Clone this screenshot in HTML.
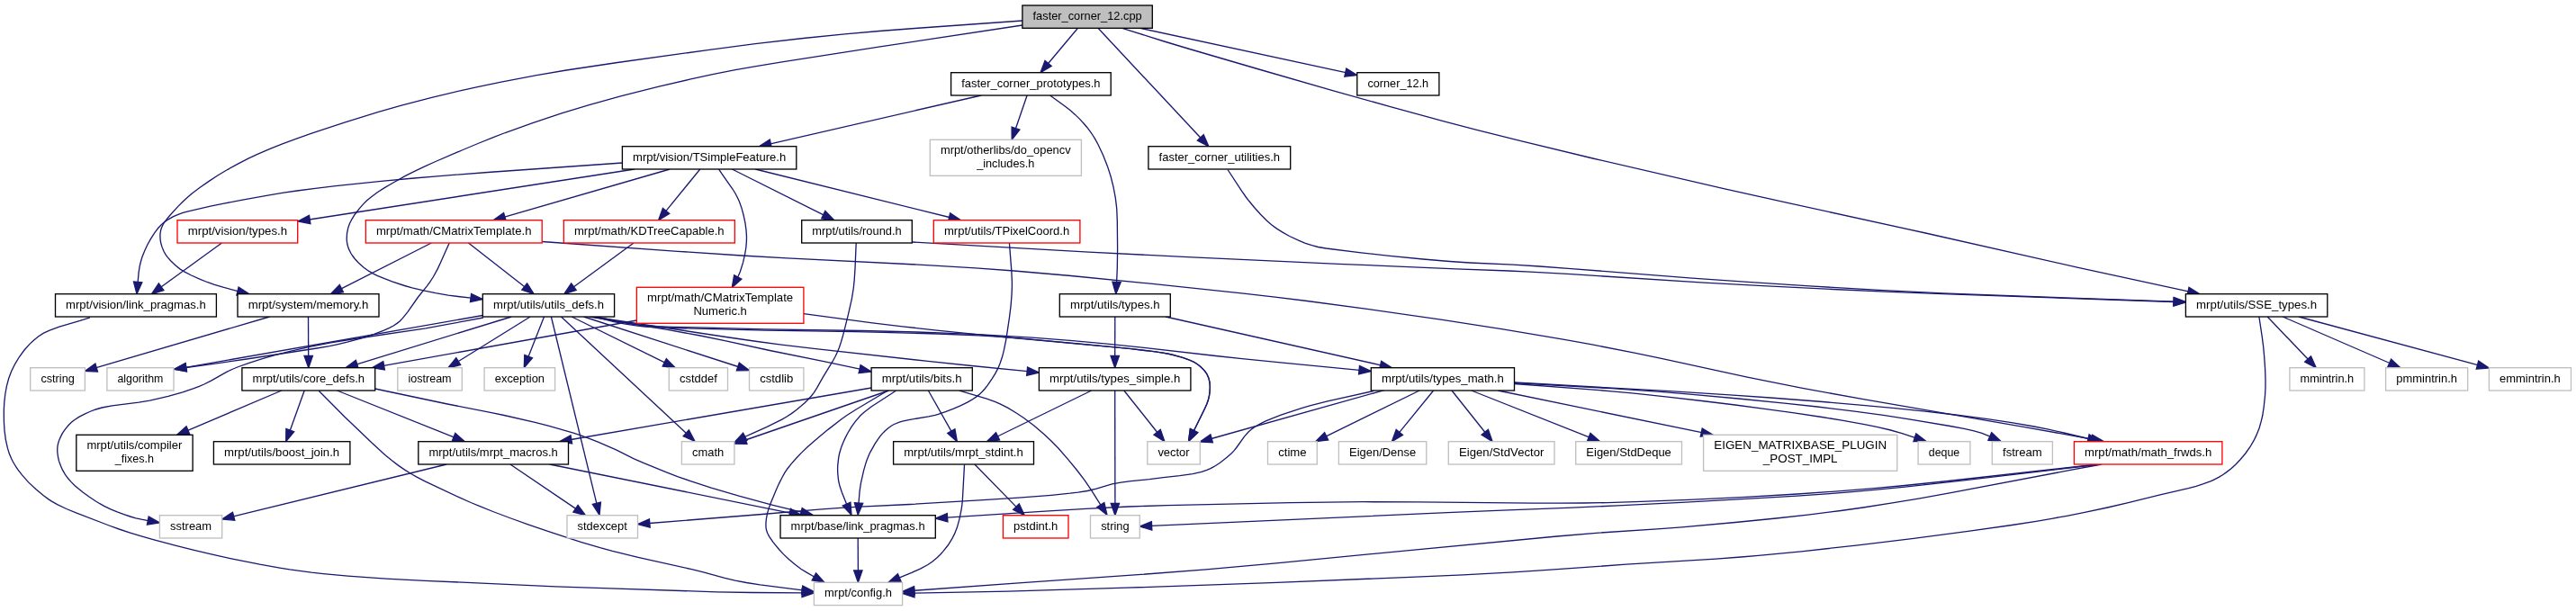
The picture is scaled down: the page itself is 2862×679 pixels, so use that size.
<!DOCTYPE html>
<html><head><meta charset="utf-8"><title>faster_corner_12.cpp include dependency graph</title>
<style>html,body{margin:0;padding:0;background:#fff}svg{display:block;will-change:transform}text{font-family:"Liberation Sans",sans-serif;font-size:13.33px;fill:#000;text-anchor:middle}.e{fill:none;stroke:#191970;stroke-width:1.33}.a{fill:#191970;stroke:#191970;stroke-width:1.33}.n{stroke-width:1.33}</style></head><body>
<svg width="2862" height="679" viewBox="0 0 2862 679">
<path class="e" d="M1197.5,31.3 L1164.4,70.7"/>
<polygon class="a" points="1161.0,67.4 1156.0,80.7 1168.2,73.5"/>
<path class="e" d="M1266.7,31.3 L1495.1,80.7"/>
<polygon class="a" points="1493.8,85.2 1507.8,83.5 1495.8,76.1"/>
<path class="e" d="M1220.0,31.3 L1334.0,153.2"/>
<polygon class="a" points="1330.4,156.1 1342.9,162.7 1337.2,149.7"/>
<path class="e" d="M1090.2,106.0 L856.0,159.8"/>
<polygon class="a" points="855.3,155.1 843.3,162.7 857.3,164.2"/>
<path class="e" d="M1141.1,106.0 L1128.4,143.0"/>
<polygon class="a" points="1124.1,141.2 1124.2,155.3 1132.9,144.2"/>
<path class="e" d="M705.0,188.0 L343.8,244.0"/>
<polygon class="a" points="343.5,239.3 331.0,246.0 344.9,248.6"/>
<path class="e" d="M744.2,188.0 L560.6,241.1"/>
<polygon class="a" points="559.6,236.5 548.1,244.7 562.2,245.4"/>
<path class="e" d="M777.8,188.0 L739.8,234.6"/>
<polygon class="a" points="736.4,231.4 731.6,244.7 743.7,237.3"/>
<path class="e" d="M813.4,188.0 L915.0,238.8"/>
<polygon class="a" points="912.7,242.9 926.7,244.7 916.8,234.5"/>
<path class="e" d="M839.2,188.0 L1054.9,241.5"/>
<polygon class="a" points="1053.5,246.0 1067.5,244.7 1055.7,236.9"/>
<path class="e" d="M246.4,270.0 L178.9,319.0"/>
<polygon class="a" points="176.4,315.0 168.4,326.7 181.9,322.6"/>
<path class="e" d="M479.3,270.0 L379.1,320.8"/>
<polygon class="a" points="377.3,316.5 367.5,326.7 381.5,324.8"/>
<path class="e" d="M520.5,270.0 L582.9,318.7"/>
<polygon class="a" points="579.8,322.1 593.2,326.7 585.6,314.8"/>
<path class="e" d="M704.0,270.0 L637.2,319.0"/>
<polygon class="a" points="634.7,315.0 626.7,326.7 640.2,322.5"/>
<path class="e" d="M1013.3,269.0 L1209.6,280.1 L1319.4,285.7 L1487.0,293.3 L1617.6,298.8 L1676.3,301.0 L1700.0,302.1 L1745.6,304.7 L1893.4,314.1 L1958.5,317.6 L2036.7,321.5 L2100.5,324.4 L2158.7,326.7 L2415.4,335.5"/>
<polygon class="a" points="2414.9,340.2 2428.4,336.0 2415.2,330.9"/>
<path class="e" d="M299.5,352.0 L106.9,408.7"/>
<polygon class="a" points="105.9,404.1 94.4,412.4 108.5,413.1"/>
<path class="e" d="M342.5,352.0 L342.7,395.7"/>
<polygon class="a" points="338.0,395.3 342.8,408.7 347.4,395.3"/>
<path class="e" d="M536.3,350.5 L206.4,408.3"/>
<polygon class="a" points="205.9,403.6 193.6,410.5 207.5,412.8"/>
<path class="e" d="M568.2,352.0 L396.4,404.8"/>
<polygon class="a" points="395.4,400.3 384.0,408.7 398.1,409.2"/>
<path class="e" d="M589.1,352.0 L509.0,401.8"/>
<polygon class="a" points="506.8,397.7 497.9,408.7 511.7,405.6"/>
<path class="e" d="M604.5,352.0 L587.0,396.6"/>
<polygon class="a" points="582.8,394.5 582.3,408.7 591.5,397.9"/>
<path class="e" d="M635.2,352.0 L738.5,402.9"/>
<polygon class="a" points="736.2,407.0 750.2,408.7 740.3,398.6"/>
<path class="e" d="M648.6,352.0 L820.1,407.5"/>
<polygon class="a" points="818.4,411.9 832.5,411.6 821.3,403.0"/>
<path class="e" d="M655.0,352.0 L741.4,366.4 L778.0,373.0 L805.3,378.6 L855.3,389.5 L916.5,401.8 L955.4,410.2"/>
<polygon class="a" points="954.1,414.7 968.1,413.0 956.1,405.6"/>
<path class="e" d="M658.0,352.0 L810.0,375.0 L841.2,379.5 L866.3,382.8 L904.1,387.3 L1030.8,401.4 L1079.6,406.5 L1141.5,412.7"/>
<polygon class="a" points="1140.7,417.3 1154.4,414.0 1141.6,408.0"/>
<path class="e" d="M663.0,352.0 L684.9,357.0 L700.2,359.8 L714.8,361.6 L730.2,362.7 L747.4,363.3 L784.3,364.1 L850.2,365.8 L957.9,367.5 L1018.8,369.0 L1056.6,370.3 L1086.9,371.6 L1117.1,373.3 L1146.8,375.2 L1191.9,378.7 L1232.6,382.4 L1271.0,386.4 L1350.8,395.5 L1380.0,398.6 L1425.2,403.1 L1510.4,411.3"/>
<polygon class="a" points="1509.6,415.9 1523.3,412.5 1510.5,406.6"/>
<path class="e" d="M707.4,356.0 L426.3,406.4"/>
<polygon class="a" points="425.8,401.7 413.5,408.7 427.4,410.9"/>
<path class="e" d="M1238.8,352.0 L1238.7,395.7"/>
<polygon class="a" points="1234.0,395.3 1238.7,408.7 1243.4,395.3"/>
<path class="e" d="M1295.1,352.0 L1534.0,405.8"/>
<polygon class="a" points="1532.6,410.3 1546.6,408.7 1534.7,401.2"/>
<path class="e" d="M2519.2,352.0 L2564.3,399.3"/>
<polygon class="a" points="2560.7,402.2 2573.3,408.7 2567.5,395.8"/>
<path class="e" d="M2536.3,352.0 L2655.0,403.5"/>
<polygon class="a" points="2652.9,407.6 2666.9,408.7 2656.6,399.1"/>
<path class="e" d="M2554.0,352.0 L2752.8,405.7"/>
<polygon class="a" points="2751.3,410.1 2765.4,409.0 2753.7,401.1"/>
<path class="e" d="M312.9,434.0 L208.6,478.3"/>
<polygon class="a" points="207.1,473.8 196.6,483.3 210.7,482.4"/>
<path class="e" d="M338.2,434.0 L322.2,478.4"/>
<polygon class="a" points="317.9,476.5 317.7,490.7 326.7,479.7"/>
<path class="e" d="M374.5,434.0 L504.3,485.8"/>
<polygon class="a" points="502.3,490.1 516.4,490.7 505.8,481.4"/>
<path class="e" d="M968.1,431.0 L634.5,488.5"/>
<polygon class="a" points="634.0,483.8 621.7,490.7 635.6,493.0"/>
<path class="e" d="M987.5,434.0 L828.2,489.0"/>
<polygon class="a" points="827.0,484.5 815.9,493.2 830.0,493.3"/>
<path class="e" d="M1031.4,434.0 L1057.0,479.3"/>
<polygon class="a" points="1052.8,481.4 1063.4,490.7 1060.9,476.8"/>
<path class="e" d="M1212.7,434.0 L1108.2,485.0"/>
<polygon class="a" points="1106.5,480.6 1096.5,490.7 1110.6,489.0"/>
<path class="e" d="M1248.8,434.0 L1285.8,480.5"/>
<polygon class="a" points="1282.0,483.2 1293.9,490.7 1289.3,477.3"/>
<path class="e" d="M1537.8,433.6 L1345.8,487.5"/>
<polygon class="a" points="1344.9,482.9 1333.3,491.0 1347.4,491.9"/>
<path class="e" d="M1577.1,434.0 L1473.4,484.9"/>
<polygon class="a" points="1471.6,480.6 1461.7,490.7 1475.7,489.0"/>
<path class="e" d="M1592.6,434.0 L1554.6,480.6"/>
<polygon class="a" points="1551.2,477.4 1546.4,490.7 1558.5,483.3"/>
<path class="e" d="M1613.0,434.0 L1650.0,480.5"/>
<polygon class="a" points="1646.1,483.1 1658.1,490.7 1653.4,477.3"/>
<path class="e" d="M1634.8,434.0 L1765.6,485.9"/>
<polygon class="a" points="1763.5,490.1 1777.7,490.7 1767.0,481.4"/>
<path class="e" d="M1664.3,434.0 L1890.6,480.7"/>
<polygon class="a" points="1889.3,485.2 1903.3,483.3 1891.2,476.1"/>
<path class="e" d="M1682.5,426.5 L1767.2,432.8 L1790.8,434.8 L1815.7,437.2 L1852.8,441.1 L1890.9,445.5 L1927.8,450.0 L1960.4,454.3 L1993.4,458.9 L2024.2,463.5 L2046.5,467.1 L2071.4,471.6 L2086.2,474.6 L2100.5,478.0 L2113.2,481.6 L2127.6,486.4"/>
<polygon class="a" points="2125.9,490.7 2140.0,490.4 2128.8,481.8"/>
<path class="e" d="M1682.5,425.5 L1790.1,431.7 L1844.7,435.4 L1880.2,438.3 L1931.3,443.0 L1982.6,448.1 L2018.9,452.0 L2058.7,456.8 L2092.3,461.4 L2122.6,466.1 L2166.6,473.5 L2182.1,476.3 L2193.2,478.9 L2201.9,481.4 L2211.1,485.1"/>
<polygon class="a" points="2208.9,489.3 2223.0,490.4 2212.7,480.7"/>
<path class="e" d="M1682.5,425.0 L1855.2,434.7 L1921.9,438.8 L1966.9,442.0 L2019.1,446.0 L2069.4,450.3 L2105.2,453.6 L2138.9,457.1 L2172.5,461.0 L2208.2,465.7 L2234.8,469.7 L2260.0,474.0 L2274.7,476.9 L2293.0,481.0 L2320.3,487.5"/>
<polygon class="a" points="2319.0,491.9 2333.0,490.4 2321.1,482.8"/>
<path class="e" d="M496.2,516.0 L259.3,573.8"/>
<polygon class="a" points="258.5,569.2 246.7,576.9 260.8,578.3"/>
<path class="e" d="M566.9,516.0 L639.8,565.4"/>
<polygon class="a" points="636.9,569.1 650.5,572.7 642.1,561.3"/>
<path class="e" d="M610.7,516.0 L877.8,570.1"/>
<polygon class="a" points="876.6,574.6 890.6,572.7 878.4,565.4"/>
<path class="e" d="M1082.9,516.0 L1129.2,563.4"/>
<polygon class="a" points="1125.7,566.4 1138.3,572.7 1132.3,559.9"/>
<path class="e" d="M2331.0,516.0 L2164.6,534.5 L2116.2,539.5 L2085.1,542.4 L2045.1,545.7 L1996.7,549.0 L1939.1,552.3 L1876.6,555.3 L1816.3,557.7 L1785.7,558.6 L1760.0,559.0 L1733.0,559.2 L1703.5,559.1 L1575.3,557.8 L1515.0,557.7 L1433.8,558.7 L1296.2,561.7 L1254.0,563.0 L1206.6,565.3 L1157.0,568.4 L1052.3,575.2"/>
<polygon class="a" points="1052.3,570.5 1039.3,576.0 1052.9,579.8"/>
<path class="e" d="M2333.0,516.0 L2181.9,533.8 L2116.5,541.1 L2085.2,544.2 L2057.5,546.7 L2032.8,548.6 L1996.7,551.1 L1961.7,553.2 L1868.1,558.3 L1797.2,561.9 L1747.4,564.1 L1675.1,566.9 L1608.0,569.7 L1279.3,584.4"/>
<polygon class="a" points="1279.4,579.7 1266.3,585.0 1279.8,589.1"/>
<path class="e" d="M953.2,598.0 L953.4,634.3"/>
<polygon class="a" points="948.7,634.0 953.4,647.3 958.0,634.0"/>
<path class="e" d="M1135.9,23.0 L1016.4,31.5 L977.0,34.5 L938.5,37.8 L892.7,42.5 L839.1,48.7 L786.2,55.6 L686.0,69.5 L629.2,78.0 L596.2,83.6 L556.9,91.1 L530.5,96.6 L513.4,100.3 L479.7,108.4 L446.0,117.2 L419.7,124.7 L382.7,136.1 L346.3,148.2 L329.4,154.2 L313.8,159.9 L300.0,165.4 L285.5,171.6 L275.9,176.1 L264.3,182.1 L253.1,188.3 L242.2,194.8 L231.8,201.6 L221.9,208.5 L213.0,215.3 L206.7,220.8 L202.7,224.5 L197.8,229.4 L188.0,240.3 L182.9,246.7 L181.2,249.5 L180.3,251.3 L179.1,254.3 L178.5,256.6 L178.0,259.6 L177.9,262.0 L178.0,264.6 L178.3,267.8 L179.0,271.0 L180.0,274.4 L182.2,279.8 L184.2,283.1 L185.8,285.4 L189.6,289.8 L195.1,295.1 L200.2,299.1 L205.2,302.2 L212.6,306.0 L222.4,310.3 L230.1,313.5 L238.3,316.3 L248.7,319.4 L264.4,323.7"/>
<polygon class="a" points="262.9,328.1 277.0,326.7 265.1,319.0"/>
<path class="e" d="M1135.9,28.0 L974.7,52.4 L868.8,68.9 L838.5,73.8 L815.6,77.9 L791.7,82.7 L766.3,88.2 L732.1,96.1 L690.4,106.6 L654.5,116.6 L624.7,125.6 L591.1,136.8 L561.3,147.5 L548.1,152.6 L531.0,159.5 L514.3,166.5 L482.8,180.0 L471.5,185.1 L460.5,190.3 L450.0,195.7 L435.2,204.0 L426.9,208.9 L418.9,214.0 L411.7,219.4 L407.4,223.1 L403.8,226.6 L399.4,231.6 L394.1,238.5 L390.8,243.8 L388.2,249.0 L386.6,253.9 L385.5,259.7 L385.2,265.6 L385.4,268.4 L385.9,271.3 L386.6,274.0 L387.6,276.9 L389.9,281.5 L391.9,284.5 L394.1,287.5 L398.0,291.8 L403.8,297.1 L409.6,301.2 L414.2,303.8 L419.2,306.3 L427.3,309.7 L435.6,312.8 L449.5,317.5 L457.9,319.9 L469.4,322.7 L483.9,325.7 L498.0,328.1 L509.0,329.5 L523.4,331.1"/>
<polygon class="a" points="522.5,335.7 536.3,332.5 523.6,326.4"/>
<path class="e" d="M1246.8,31.4 L1293.4,46.0 L1320.0,54.0 L1400.4,77.5 L1481.4,100.8 L1544.8,118.6 L1605.3,135.1 L1640.7,144.3 L1689.7,156.7 L1769.7,176.0 L1916.2,209.8 L1987.1,225.6 L2139.3,259.0 L2309.0,297.3 L2431.3,323.9"/>
<polygon class="a" points="2430.0,328.4 2444.0,326.7 2432.0,319.3"/>
<path class="e" d="M1166.6,106.0 L1183.5,118.2 L1189.9,123.3 L1194.5,127.4 L1200.1,132.9 L1204.1,137.2 L1207.9,141.7 L1211.6,146.6 L1213.9,150.0 L1216.5,154.1 L1220.1,160.8 L1225.7,172.7 L1230.5,184.9 L1234.2,196.5 L1237.1,208.1 L1239.3,219.8 L1240.7,231.5 L1241.3,245.5 L1241.6,276.5 L1241.3,297.8 L1240.6,313.7"/>
<polygon class="a" points="1235.9,313.1 1239.8,326.7 1245.2,313.7"/>
<path class="e" d="M691.4,181.0 L541.9,191.5 L485.7,195.8 L460.0,198.0 L423.5,201.4 L372.9,206.7 L350.3,209.4 L330.0,212.0 L315.1,214.2 L298.9,216.8 L270.9,221.9 L248.8,226.1 L233.8,229.2 L209.1,234.8 L203.3,236.4 L198.0,238.3 L192.6,240.7 L187.0,243.8 L182.9,246.6 L179.0,250.0 L175.9,253.3 L172.0,258.4 L167.5,265.4 L163.7,272.3 L160.6,278.9 L157.9,285.7 L156.2,291.5 L155.0,296.8 L154.1,302.9 L153.1,313.7"/>
<polygon class="a" points="148.5,313.0 152.0,326.7 157.8,313.8"/>
<path class="e" d="M798.5,187.8 L801.5,192.3 L813.9,210.0 L816.7,214.5 L819.2,219.2 L821.4,224.0 L824.1,231.6 L826.2,239.5 L827.9,247.5 L829.0,255.6 L829.5,263.5 L829.4,268.4 L828.8,275.5 L827.6,282.7 L825.5,291.9 L822.3,302.0 L819.6,308.2"/>
<polygon class="a" points="815.7,305.7 813.3,319.6 823.9,310.2"/>
<path class="e" d="M100.0,352.8 L88.9,356.4 L65.9,363.1 L55.1,367.1 L48.5,370.2 L42.5,374.0 L37.7,377.9 L33.2,382.1 L27.0,389.0 L21.5,396.5 L16.8,404.3 L12.8,412.3 L9.7,420.5 L7.4,429.1 L5.8,438.0 L4.8,447.0 L4.3,456.0 L4.4,468.6 L5.0,478.4 L6.3,488.3 L8.4,497.9 L10.3,504.1 L12.8,510.0 L14.3,513.0 L17.9,519.0 L19.9,521.9 L24.3,527.7 L31.6,535.9 L39.7,543.6 L48.1,550.6 L54.0,554.9 L57.1,556.9 L63.6,560.6 L73.8,565.5 L84.5,569.9 L121.2,584.0 L132.3,588.0 L143.8,591.8 L156.2,595.6 L170.2,599.6 L195.6,606.3 L214.5,611.1 L234.7,615.9 L255.8,620.6 L288.6,627.2 L310.8,631.1 L321.9,632.9 L345.9,636.2 L359.2,637.7 L386.5,640.2 L428.9,643.2 L471.9,645.3 L617.2,651.8 L677.7,653.9 L796.1,657.8 L835.7,658.5 L891.4,658.9"/>
<polygon class="a" points="891.0,663.6 904.4,659.0 891.1,654.2"/>
<path class="e" d="M499.3,269.7 L489.5,291.8 L486.2,298.9 L481.5,307.5 L477.5,313.6 L474.4,317.8 L464.6,330.0 L453.0,346.6 L447.3,353.6 L444.4,356.7 L441.4,359.1 L437.2,362.0 L432.7,364.4 L426.5,367.1 L415.6,371.3 L402.7,375.6 L385.8,380.2 L374.4,382.9 L366.0,384.7 L352.0,387.0 L274.1,399.0 L242.5,403.6 L206.5,408.5"/>
<polygon class="a" points="206.2,403.8 193.6,410.2 207.4,413.0"/>
<path class="e" d="M602.2,268.5 L752.9,279.3 L824.0,284.0 L874.5,286.9 L1033.4,294.8 L1083.9,297.9 L1126.6,301.0 L1190.0,306.5 L1275.5,314.9 L1381.7,326.1 L1416.6,330.1 L1452.3,334.5 L1520.6,343.6 L1602.4,355.4 L1669.9,365.9 L1736.7,377.1 L1768.8,382.9 L1815.8,392.2 L1847.0,398.7 L1940.1,418.8 L1971.2,425.2 L2002.6,431.4 L2070.2,443.7 L2248.0,474.3 L2324.2,488.1"/>
<polygon class="a" points="2323.0,492.6 2337.0,490.4 2324.7,483.4"/>
<path class="e" d="M354.2,434.2 L382.7,463.0 L413.3,492.3 L427.7,505.4 L435.1,511.5 L442.4,517.1 L449.3,521.9 L455.9,526.0 L462.6,529.9 L472.7,535.1 L510.0,552.7 L523.1,558.5 L533.2,562.7 L547.7,568.5 L567.6,576.0 L587.4,583.1 L608.7,590.4 L630.7,597.7 L645.3,602.3 L666.7,608.6 L680.4,612.3 L708.9,619.3 L768.5,632.7 L780.6,635.7 L805.2,642.4 L816.8,645.1 L829.3,647.5 L844.4,649.8 L891.5,655.8"/>
<polygon class="a" points="890.6,660.4 904.4,657.5 891.8,651.1"/>
<path class="e" d="M416.7,432.0 L497.1,449.0 L546.1,458.6 L560.0,461.5 L594.4,469.4 L609.1,473.2 L625.7,477.8 L637.0,481.2 L646.0,484.2 L655.4,487.6 L664.9,491.4 L684.5,499.8 L703.8,509.6 L715.4,514.7 L740.5,524.9 L753.4,529.8 L765.7,534.1 L790.2,542.1 L820.9,551.2 L857.7,561.1 L890.4,569.2"/>
<polygon class="a" points="888.9,573.7 903.0,572.3 891.2,564.6"/>
<path class="e" d="M537.0,353.0 L496.0,360.7 L473.0,364.8 L394.4,376.5 L367.4,380.9 L343.3,385.6 L321.2,390.7 L305.5,394.7 L290.7,398.9 L276.7,403.3 L263.8,408.0 L257.8,410.5 L252.2,413.2 L234.5,423.1 L226.8,427.0 L221.3,429.4 L215.3,431.7 L202.9,435.8 L186.9,440.3 L166.4,445.1 L154.2,447.1 L124.6,450.8 L113.2,453.0 L106.4,455.0 L99.7,457.5 L93.5,460.3 L87.7,463.4 L82.6,466.8 L79.4,469.3 L76.6,472.0 L73.1,476.1 L69.9,480.7 L68.1,483.9 L65.8,488.9 L64.7,492.3 L64.0,495.7 L63.7,499.2 L63.8,502.8 L64.6,508.5 L65.5,512.4 L67.6,518.1 L69.3,521.9 L72.3,527.2 L75.3,531.3 L78.9,535.4 L82.9,539.4 L87.4,543.3 L92.0,547.0 L99.3,552.3 L106.4,557.0 L110.9,559.7 L115.6,562.3 L122.9,565.8 L130.2,568.8 L137.6,571.6 L144.7,574.0 L150.9,575.8 L157.1,577.2 L164.6,578.6"/>
<polygon class="a" points="163.4,583.1 177.4,581.0 165.2,574.0"/>
<path class="e" d="M612.4,352.0 L662.9,559.7"/>
<polygon class="a" points="658.3,560.5 666.0,572.3 667.4,558.2"/>
<path class="e" d="M623.5,352.0 L762.5,481.5"/>
<polygon class="a" points="759.1,484.7 772.0,490.4 765.4,477.9"/>
<path class="e" d="M661.0,352.0 L681.1,357.3 L693.5,359.8 L708.3,362.1 L716.7,363.0 L726.4,363.7 L747.5,364.6 L850.2,367.1 L950.0,368.6 L981.0,369.3 L1042.2,371.0 L1087.4,372.8 L1108.6,374.0 L1135.1,376.1 L1238.8,385.8 L1256.8,387.7 L1279.8,390.4 L1289.9,391.8 L1297.1,393.0 L1304.0,394.6 L1314.9,397.7 L1321.6,400.1 L1327.7,403.0 L1330.3,404.7 L1333.2,406.9 L1337.5,411.1 L1339.7,413.8 L1340.9,415.7 L1342.8,419.9 L1344.0,424.9 L1344.4,430.3 L1343.9,437.2 L1342.7,443.3 L1341.0,448.5 L1338.7,453.7 L1326.4,478.8"/>
<polygon class="a" points="1322.4,476.4 1320.5,490.4 1330.7,480.7"/>
<path class="e" d="M892.9,348.6 L969.3,358.9 L1002.6,362.8 L1041.0,367.1 L1115.2,374.7 L1197.4,382.0 L1238.8,385.8 L1256.8,387.7 L1282.4,390.7 L1292.4,392.2 L1301.8,394.0 L1313.1,397.1 L1320.0,399.5 L1326.2,402.2 L1330.3,404.7 L1334.2,407.7 L1338.3,412.0 L1340.9,415.7 L1342.8,419.9 L1344.0,424.9 L1344.3,428.9 L1344.2,434.4 L1343.5,440.0 L1342.2,445.0 L1341.0,448.5 L1338.7,453.7 L1326.4,478.8"/>
<polygon class="a" points="1322.4,476.4 1320.5,490.4 1330.7,480.7"/>
<path class="e" d="M986.0,434.2 L951.6,454.8 L941.3,461.3 L934.6,466.0 L920.3,477.1 L908.9,486.4 L897.9,496.1 L891.0,502.6 L884.6,509.2 L879.0,515.6 L874.8,521.0 L871.7,525.7 L869.0,530.5 L865.4,537.6 L862.3,544.5 L855.9,560.1 L853.8,566.1 L852.5,570.6 L851.3,577.1 L850.9,582.0 L851.0,586.0 L851.5,589.0 L852.7,592.5 L854.7,596.4 L859.2,602.9 L865.5,610.5 L870.5,615.9 L876.1,621.2 L883.6,627.5 L889.8,632.2 L896.6,636.4 L904.6,641.0"/>
<polygon class="a" points="902.1,644.9 916.0,647.3 906.6,636.8"/>
<path class="e" d="M995.3,434.2 L990.0,437.8 L968.0,452.0 L960.5,457.7 L956.0,461.8 L950.5,468.1 L945.8,474.7 L941.6,481.7 L939.2,486.4 L937.0,491.2 L935.1,495.9 L933.6,500.5 L932.5,504.5 L931.7,508.6 L930.8,516.6 L930.6,520.7 L930.8,526.6 L931.6,534.2 L932.9,539.7 L935.3,547.0 L940.7,560.4"/>
<polygon class="a" points="936.3,562.0 946.0,572.3 944.9,558.2"/>
<path class="e" d="M1066.0,434.2 L1096.3,443.2 L1105.3,446.3 L1111.1,448.8 L1120.0,453.4 L1128.8,458.7 L1137.5,464.5 L1148.8,473.0 L1159.6,482.2 L1167.9,490.0 L1176.0,498.3 L1186.3,510.1 L1196.1,522.0 L1204.8,533.4 L1212.3,544.4 L1223.0,561.3"/>
<polygon class="a" points="1218.9,563.6 1230.0,572.3 1226.8,558.6"/>
<path class="e" d="M1071.5,516.4 L1069.4,555.2 L1068.9,560.4 L1068.2,565.6 L1066.0,576.6 L1063.4,586.1 L1060.5,593.4 L1057.8,598.7 L1053.2,606.0 L1047.7,612.9 L1044.7,616.2 L1041.4,619.4 L1036.0,624.0 L1031.0,627.5 L1022.4,632.1 L1012.9,636.4 L998.9,642.1"/>
<polygon class="a" points="997.4,637.7 987.0,647.3 1001.1,646.2"/>
<path class="e" d="M1238.7,434.0 L1238.9,559.7"/>
<polygon class="a" points="1234.2,559.3 1238.9,572.7 1243.5,559.3"/>
<path class="e" d="M1526.3,434.4 L1474.9,445.9 L1455.2,450.9 L1446.0,453.7 L1423.2,461.2 L1412.4,465.3 L1405.7,468.2 L1399.4,471.4 L1393.6,474.8 L1391.0,476.6 L1387.3,479.7 L1382.7,484.8 L1373.7,497.5 L1371.0,500.9 L1368.0,504.0 L1363.4,508.1 L1355.5,514.3 L1348.6,518.7 L1344.9,520.6 L1340.8,522.4 L1335.0,524.4 L1325.1,526.6 L1310.7,528.7 L1292.6,530.7 L1276.9,532.7 L1256.5,534.7 L1245.4,536.1 L1235.6,537.9 L1229.7,539.6 L1218.1,543.2 L1208.2,545.5 L1197.7,547.1 L1188.9,548.2 L1168.1,550.3 L1131.5,553.2 L1092.2,555.7 L1010.8,560.5 L955.5,563.1 L934.0,564.4 L909.9,566.2 L846.6,571.5 L721.5,581.5"/>
<polygon class="a" points="721.4,576.8 708.5,582.5 722.2,586.1"/>
<path class="e" d="M2335.0,516.0 L2301.6,522.2 L2166.0,547.9 L2133.0,553.8 L2100.9,559.2 L2070.0,564.0 L2045.1,567.5 L2008.6,572.1 L1973.3,576.0 L1928.0,580.5 L1868.4,585.9 L1844.8,587.7 L1776.4,592.1 L1729.9,596.0 L1573.7,610.8 L1417.9,625.9 L1340.0,632.9 L1268.0,638.4 L1131.8,647.9 L1015.6,656.3"/>
<polygon class="a" points="1015.6,651.7 1002.6,657.3 1016.2,661.0"/>
<path class="e" d="M951.2,269.7 L950.0,298.6 L949.2,311.1 L948.3,320.0 L946.4,331.8 L942.4,349.6 L936.9,371.6 L934.4,380.3 L932.3,386.5 L930.7,390.6 L928.0,396.2 L925.0,401.7 L914.5,418.8 L907.6,431.1 L904.3,436.3 L901.4,440.0 L897.8,444.0 L893.8,447.9 L889.6,451.6 L885.2,455.2 L879.3,459.6 L874.9,462.5 L868.8,466.1 L851.6,474.7 L834.3,482.3 L827.4,485.5"/>
<polygon class="a" points="825.6,481.2 815.9,491.5 829.9,489.5"/>
<path class="e" d="M1121.4,269.7 L1123.8,300.6 L1124.4,312.7 L1124.4,318.6 L1124.1,326.6 L1123.1,339.7 L1121.5,352.6 L1119.2,368.1 L1117.5,378.8 L1115.4,389.1 L1113.6,396.3 L1111.2,403.5 L1109.0,408.9 L1105.9,414.9 L1102.2,420.8 L1097.1,428.3 L1094.2,432.0 L1091.0,435.5 L1087.4,438.9 L1084.1,441.4 L1079.9,444.2 L1075.2,446.8 L1067.6,450.6 L1059.5,454.1 L1051.1,457.4 L1042.3,460.4 L1038.9,461.4 L1031.8,462.9 L1009.6,466.6 L1002.6,468.2 L999.3,469.1 L993.3,471.5 L990.7,473.0 L986.9,475.7 L983.4,478.7 L980.3,481.9 L977.4,485.3 L972.4,492.7 L966.8,502.6 L964.9,506.8 L963.1,511.3 L961.6,515.9 L959.6,522.9 L956.4,537.0 L955.1,545.8 L954.0,559.3"/>
<polygon class="a" points="949.4,558.7 953.2,572.3 958.7,559.3"/>
<path class="e" d="M1364.0,188.5 L1379.5,212.1 L1384.3,219.0 L1387.6,223.3 L1394.0,231.0 L1400.5,238.2 L1407.2,245.0 L1412.6,249.7 L1418.6,254.1 L1425.4,258.4 L1432.7,262.5 L1442.7,267.2 L1450.3,270.3 L1457.6,272.7 L1464.4,274.5 L1473.2,276.0 L1512.2,280.9 L1541.5,284.1 L1581.0,288.0 L1610.6,290.5 L1632.9,292.0 L1681.1,294.2 L1710.6,296.0 L1745.6,298.6 L1880.1,309.1 L1945.4,313.6 L2010.7,317.9 L2087.9,322.4 L2158.7,325.8 L2308.1,331.4 L2415.4,335.1"/>
<polygon class="a" points="2414.9,339.7 2428.4,335.5 2415.2,330.4"/>
<path class="e" d="M2509.9,352.0 L2513.3,374.7 L2514.6,384.9 L2515.6,395.5 L2516.6,409.9 L2517.0,421.6 L2517.0,430.3 L2516.6,438.7 L2515.3,451.5 L2513.8,461.5 L2512.1,468.7 L2510.1,475.7 L2506.8,483.9 L2504.0,489.7 L2499.7,497.0 L2494.7,504.0 L2489.0,510.7 L2484.3,515.7 L2479.2,520.5 L2473.5,524.9 L2469.4,527.7 L2465.0,530.4 L2459.3,533.4 L2455.8,534.9 L2448.2,537.7 L2440.0,540.3 L2431.3,542.6 L2398.9,550.1 L2365.6,558.4 L2341.5,564.0 L2316.2,569.4 L2296.3,573.3 L2279.6,576.3 L2262.2,579.3 L2235.3,583.5 L2188.4,590.2 L2126.2,598.4 L2064.3,605.9 L2001.4,612.8 L1953.7,617.4 L1934.3,619.0 L1906.3,621.1 L1806.8,627.2 L1719.2,633.4 L1681.1,635.8 L1625.5,638.8 L1567.1,641.4 L1418.7,647.3 L1251.5,653.2 L1120.0,657.1 L1015.6,659.2"/>
<polygon class="a" points="1015.8,654.6 1002.6,659.5 1016.0,663.9"/>
<rect class="n" x="1135.9" y="6.0" width="144.4" height="25.3" fill="#bfbfbf" stroke="#000000"/>
<text x="1208.1" y="22.0" textLength="121.1" lengthAdjust="spacingAndGlyphs">faster_corner_12.cpp</text>
<rect class="n" x="1056.6" y="80.7" width="177.6" height="25.3" fill="#ffffff" stroke="#000000"/>
<text x="1145.4" y="96.7" textLength="154.3" lengthAdjust="spacingAndGlyphs">faster_corner_prototypes.h</text>
<rect class="n" x="1507.8" y="80.7" width="91.1" height="25.3" fill="#ffffff" stroke="#000000"/>
<text x="1553.3" y="96.7" textLength="67.8" lengthAdjust="spacingAndGlyphs">corner_12.h</text>
<rect class="n" x="691.4" y="162.7" width="193.4" height="25.3" fill="#ffffff" stroke="#000000"/>
<text x="788.1" y="178.7" textLength="170.1" lengthAdjust="spacingAndGlyphs">mrpt/vision/TSimpleFeature.h</text>
<rect class="n" x="1033.3" y="155.3" width="168.1" height="40.0" fill="#ffffff" stroke="#bfbfbf"/>
<text x="1117.3" y="170.7" textLength="144.8" lengthAdjust="spacingAndGlyphs">mrpt/otherlibs/do_opencv</text>
<text x="1117.3" y="185.8" textLength="64.3" lengthAdjust="spacingAndGlyphs">_includes.h</text>
<rect class="n" x="1275.9" y="162.7" width="157.8" height="25.3" fill="#ffffff" stroke="#000000"/>
<text x="1354.8" y="178.7" textLength="134.5" lengthAdjust="spacingAndGlyphs">faster_corner_utilities.h</text>
<rect class="n" x="197.0" y="244.7" width="133.7" height="25.3" fill="#ffffff" stroke="#ff0000"/>
<text x="263.9" y="260.7" textLength="110.4" lengthAdjust="spacingAndGlyphs">mrpt/vision/types.h</text>
<rect class="n" x="406.3" y="244.7" width="195.9" height="25.3" fill="#ffffff" stroke="#ff0000"/>
<text x="504.2" y="260.7" textLength="172.6" lengthAdjust="spacingAndGlyphs">mrpt/math/CMatrixTemplate.h</text>
<rect class="n" x="626.3" y="244.7" width="190.0" height="25.3" fill="#ffffff" stroke="#ff0000"/>
<text x="721.3" y="260.7" textLength="166.7" lengthAdjust="spacingAndGlyphs">mrpt/math/KDTreeCapable.h</text>
<rect class="n" x="890.7" y="244.7" width="122.6" height="25.3" fill="#ffffff" stroke="#000000"/>
<text x="952.0" y="260.7" textLength="99.3" lengthAdjust="spacingAndGlyphs">mrpt/utils/round.h</text>
<rect class="n" x="1037.3" y="244.7" width="162.6" height="25.3" fill="#ffffff" stroke="#ff0000"/>
<text x="1118.6" y="260.7" textLength="139.3" lengthAdjust="spacingAndGlyphs">mrpt/utils/TPixelCoord.h</text>
<rect class="n" x="61.5" y="326.7" width="178.9" height="25.3" fill="#ffffff" stroke="#000000"/>
<text x="150.9" y="342.7" textLength="155.6" lengthAdjust="spacingAndGlyphs">mrpt/vision/link_pragmas.h</text>
<rect class="n" x="264.0" y="326.7" width="157.0" height="25.3" fill="#ffffff" stroke="#000000"/>
<text x="342.5" y="342.7" textLength="133.7" lengthAdjust="spacingAndGlyphs">mrpt/system/memory.h</text>
<rect class="n" x="536.3" y="326.7" width="146.3" height="25.3" fill="#ffffff" stroke="#000000"/>
<text x="609.5" y="342.7" textLength="123.0" lengthAdjust="spacingAndGlyphs">mrpt/utils/utils_defs.h</text>
<rect class="n" x="707.4" y="319.3" width="185.5" height="40.0" fill="#ffffff" stroke="#ff0000"/>
<text x="800.1" y="334.7" textLength="162.2" lengthAdjust="spacingAndGlyphs">mrpt/math/CMatrixTemplate</text>
<text x="800.1" y="349.8" textLength="59.4" lengthAdjust="spacingAndGlyphs">Numeric.h</text>
<rect class="n" x="1177.3" y="326.7" width="123.0" height="25.3" fill="#ffffff" stroke="#000000"/>
<text x="1238.8" y="342.7" textLength="99.7" lengthAdjust="spacingAndGlyphs">mrpt/utils/types.h</text>
<rect class="n" x="2428.4" y="326.7" width="157.4" height="25.3" fill="#ffffff" stroke="#000000"/>
<text x="2507.1" y="342.7" textLength="134.1" lengthAdjust="spacingAndGlyphs">mrpt/utils/SSE_types.h</text>
<rect class="n" x="33.7" y="408.7" width="60.7" height="25.3" fill="#ffffff" stroke="#bfbfbf"/>
<text x="64.1" y="424.7" textLength="37.4" lengthAdjust="spacingAndGlyphs">cstring</text>
<rect class="n" x="118.9" y="408.7" width="74.1" height="25.3" fill="#ffffff" stroke="#bfbfbf"/>
<text x="155.9" y="424.7" textLength="50.8" lengthAdjust="spacingAndGlyphs">algorithm</text>
<rect class="n" x="268.9" y="408.7" width="147.8" height="25.3" fill="#ffffff" stroke="#000000"/>
<text x="342.8" y="424.7" textLength="124.5" lengthAdjust="spacingAndGlyphs">mrpt/utils/core_defs.h</text>
<rect class="n" x="441.8" y="408.7" width="71.5" height="25.3" fill="#ffffff" stroke="#bfbfbf"/>
<text x="477.5" y="424.7" textLength="48.2" lengthAdjust="spacingAndGlyphs">iostream</text>
<rect class="n" x="538.1" y="408.7" width="78.5" height="25.3" fill="#ffffff" stroke="#bfbfbf"/>
<text x="577.4" y="424.7" textLength="55.2" lengthAdjust="spacingAndGlyphs">exception</text>
<rect class="n" x="743.3" y="408.7" width="65.2" height="25.3" fill="#ffffff" stroke="#bfbfbf"/>
<text x="775.9" y="424.7" textLength="41.9" lengthAdjust="spacingAndGlyphs">cstddef</text>
<rect class="n" x="832.5" y="408.7" width="60.4" height="25.3" fill="#ffffff" stroke="#bfbfbf"/>
<text x="862.7" y="424.7" textLength="37.1" lengthAdjust="spacingAndGlyphs">cstdlib</text>
<rect class="n" x="968.1" y="408.7" width="112.2" height="25.3" fill="#ffffff" stroke="#000000"/>
<text x="1024.2" y="424.7" textLength="88.9" lengthAdjust="spacingAndGlyphs">mrpt/utils/bits.h</text>
<rect class="n" x="1154.4" y="408.7" width="168.5" height="25.3" fill="#ffffff" stroke="#000000"/>
<text x="1238.7" y="424.7" textLength="145.2" lengthAdjust="spacingAndGlyphs">mrpt/utils/types_simple.h</text>
<rect class="n" x="1523.3" y="408.7" width="159.2" height="25.3" fill="#ffffff" stroke="#000000"/>
<text x="1602.9" y="424.7" textLength="135.9" lengthAdjust="spacingAndGlyphs">mrpt/utils/types_math.h</text>
<rect class="n" x="2543.9" y="408.7" width="83.0" height="25.3" fill="#ffffff" stroke="#bfbfbf"/>
<text x="2585.4" y="424.7" textLength="59.7" lengthAdjust="spacingAndGlyphs">mmintrin.h</text>
<rect class="n" x="2650.6" y="408.7" width="91.1" height="25.3" fill="#ffffff" stroke="#bfbfbf"/>
<text x="2696.1" y="424.7" textLength="67.8" lengthAdjust="spacingAndGlyphs">pmmintrin.h</text>
<rect class="n" x="2765.4" y="408.7" width="91.1" height="25.3" fill="#ffffff" stroke="#bfbfbf"/>
<text x="2810.9" y="424.7" textLength="67.8" lengthAdjust="spacingAndGlyphs">emmintrin.h</text>
<rect class="n" x="84.8" y="483.3" width="129.3" height="40.0" fill="#ffffff" stroke="#000000"/>
<text x="149.4" y="498.7" textLength="106.0" lengthAdjust="spacingAndGlyphs">mrpt/utils/compiler</text>
<text x="149.4" y="513.8" textLength="43.3" lengthAdjust="spacingAndGlyphs">_fixes.h</text>
<rect class="n" x="237.4" y="490.7" width="151.5" height="25.3" fill="#ffffff" stroke="#000000"/>
<text x="313.1" y="506.7" textLength="128.2" lengthAdjust="spacingAndGlyphs">mrpt/utils/boost_join.h</text>
<rect class="n" x="464.8" y="490.7" width="166.7" height="25.3" fill="#ffffff" stroke="#000000"/>
<text x="548.1" y="506.7" textLength="143.4" lengthAdjust="spacingAndGlyphs">mrpt/utils/mrpt_macros.h</text>
<rect class="n" x="757.4" y="490.7" width="58.5" height="25.3" fill="#ffffff" stroke="#bfbfbf"/>
<text x="786.6" y="506.7" textLength="35.2" lengthAdjust="spacingAndGlyphs">cmath</text>
<rect class="n" x="992.6" y="490.7" width="155.9" height="25.3" fill="#ffffff" stroke="#000000"/>
<text x="1070.5" y="506.7" textLength="132.6" lengthAdjust="spacingAndGlyphs">mrpt/utils/mrpt_stdint.h</text>
<rect class="n" x="1274.8" y="490.7" width="58.5" height="25.3" fill="#ffffff" stroke="#bfbfbf"/>
<text x="1304.0" y="506.7" textLength="35.2" lengthAdjust="spacingAndGlyphs">vector</text>
<rect class="n" x="1408.5" y="490.7" width="54.8" height="25.3" fill="#ffffff" stroke="#bfbfbf"/>
<text x="1435.9" y="506.7" textLength="31.5" lengthAdjust="spacingAndGlyphs">ctime</text>
<rect class="n" x="1487.4" y="490.7" width="97.4" height="25.3" fill="#ffffff" stroke="#bfbfbf"/>
<text x="1536.1" y="506.7" textLength="74.1" lengthAdjust="spacingAndGlyphs">Eigen/Dense</text>
<rect class="n" x="1609.3" y="490.7" width="117.7" height="25.3" fill="#ffffff" stroke="#bfbfbf"/>
<text x="1668.2" y="506.7" textLength="94.4" lengthAdjust="spacingAndGlyphs">Eigen/StdVector</text>
<rect class="n" x="1750.7" y="490.7" width="117.8" height="25.3" fill="#ffffff" stroke="#bfbfbf"/>
<text x="1809.6" y="506.7" textLength="94.5" lengthAdjust="spacingAndGlyphs">Eigen/StdDeque</text>
<rect class="n" x="1892.6" y="483.3" width="215.2" height="40.0" fill="#ffffff" stroke="#bfbfbf"/>
<text x="2000.2" y="498.7" textLength="191.9" lengthAdjust="spacingAndGlyphs">EIGEN_MATRIXBASE_PLUGIN</text>
<text x="2000.2" y="513.8" textLength="82.8" lengthAdjust="spacingAndGlyphs">_POST_IMPL</text>
<rect class="n" x="2131.1" y="490.7" width="57.8" height="25.3" fill="#ffffff" stroke="#bfbfbf"/>
<text x="2160.0" y="506.7" textLength="34.5" lengthAdjust="spacingAndGlyphs">deque</text>
<rect class="n" x="2213.3" y="490.7" width="67.1" height="25.3" fill="#ffffff" stroke="#bfbfbf"/>
<text x="2246.9" y="506.7" textLength="43.8" lengthAdjust="spacingAndGlyphs">fstream</text>
<rect class="n" x="2304.4" y="490.7" width="164.5" height="25.3" fill="#ffffff" stroke="#ff0000"/>
<text x="2386.7" y="506.7" textLength="141.2" lengthAdjust="spacingAndGlyphs">mrpt/math/math_frwds.h</text>
<rect class="n" x="177.4" y="572.7" width="69.3" height="25.3" fill="#ffffff" stroke="#bfbfbf"/>
<text x="212.1" y="588.7" textLength="46.0" lengthAdjust="spacingAndGlyphs">sstream</text>
<rect class="n" x="630.0" y="572.7" width="78.5" height="25.3" fill="#ffffff" stroke="#bfbfbf"/>
<text x="669.2" y="588.7" textLength="55.2" lengthAdjust="spacingAndGlyphs">stdexcept</text>
<rect class="n" x="867.0" y="572.7" width="172.3" height="25.3" fill="#ffffff" stroke="#000000"/>
<text x="953.1" y="588.7" textLength="149.0" lengthAdjust="spacingAndGlyphs">mrpt/base/link_pragmas.h</text>
<rect class="n" x="1114.4" y="572.7" width="72.6" height="25.3" fill="#ffffff" stroke="#ff0000"/>
<text x="1150.7" y="588.7" textLength="49.3" lengthAdjust="spacingAndGlyphs">pstdint.h</text>
<rect class="n" x="1211.5" y="572.7" width="54.8" height="25.3" fill="#ffffff" stroke="#bfbfbf"/>
<text x="1238.9" y="588.7" textLength="31.5" lengthAdjust="spacingAndGlyphs">string</text>
<rect class="n" x="904.4" y="647.3" width="98.2" height="25.3" fill="#ffffff" stroke="#bfbfbf"/>
<text x="953.5" y="663.3" textLength="74.9" lengthAdjust="spacingAndGlyphs">mrpt/config.h</text>
</svg></body></html>
